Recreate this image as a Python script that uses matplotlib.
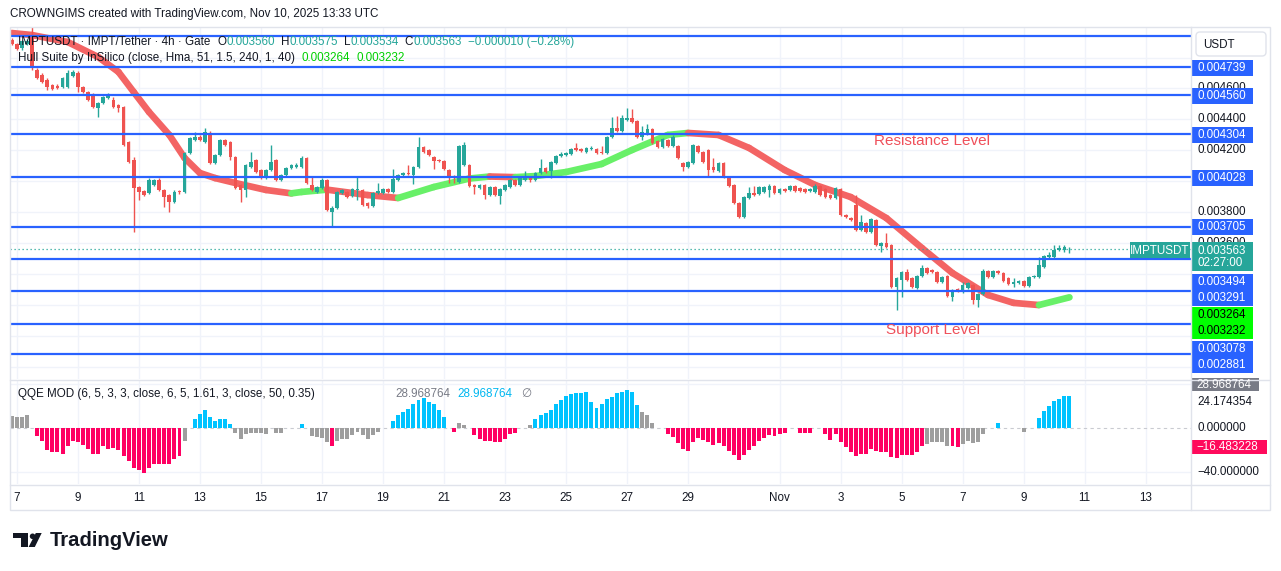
import numpy as np
import pandas as pd
import matplotlib
matplotlib.use("Agg")
import matplotlib.pyplot as plt
from matplotlib.collections import LineCollection
from matplotlib.patches import Rectangle, Polygon, Circle, FancyBboxPatch

plt.rcParams['font.family'] = ['Liberation Sans', 'DejaVu Sans']

# ---------------- DATA ----------------
# IMPT/USDT 4h candles, 2025-10-06 20:00 .. 2025-11-10 12:00 UTC (prices in millionths of USDT)
open_u = [4914, 4888, 4862, 4888, 4946, 4720, 4687, 4655, 4623, 4617,
          4610, 4610, 4680, 4700, 4610, 4577, 4558, 4474, 4506, 4538,
          4525, 4493, 4480, 4254, 4137, 3962, 3936, 3923, 3975, 4007,
          3943, 3910, 3865, 3934, 3930, 4182, 4266, 4286, 4254, 4312,
          4118, 4169, 4266, 4254, 4156, 3975, 3943, 4092, 4137, 4072,
          4020, 4072, 4137, 4007, 4040, 4085, 4092, 4092, 4150, 3975,
          3930, 3956, 4007, 3800, 3826, 3923, 3930, 3904, 3945, 3943,
          3859, 3839, 3923, 3923, 3949, 3930, 4007, 4040, 4053, 4040,
          4092, 4221, 4202, 4156, 4137, 4130, 4072, 4033, 3994, 4105,
          4105, 3975, 3956, 3975, 3910, 3962, 3904, 3943, 3962, 4007,
          3975, 4007, 4020, 4007, 4053, 4085, 4066, 4118, 4163, 4169,
          4176, 4215, 4208, 4189, 4208, 4208, 4189, 4182, 4286, 4344,
          4325, 4396, 4409, 4389, 4286, 4305, 4338, 4260, 4221, 4266,
          4228, 4228, 4118, 4092, 4118, 4228, 4189, 4202, 4092, 4066,
          4118, 4027, 3975, 3859, 3768, 3891, 3923, 3917, 3930, 3943,
          3969, 3923, 3949, 3943, 3969, 3956, 3949, 3936, 3930, 3969,
          3949, 3910, 3891, 3949, 3781, 3762, 3846, 3684, 3729, 3671,
          3749, 3580, 3600, 3587, 3315, 3360, 3412, 3373, 3308, 3386,
          3438, 3425, 3412, 3347, 3386, 3250, 3302, 3283, 3308, 3328,
          3231, 3270, 3418, 3380, 3418, 3405, 3373, 3334, 3341, 3354,
          3321, 3380, 3380, 3445, 3509, 3509, 3554, 3554, 3560]
high_u = [4927, 4894, 4914, 4920, 4998, 4733, 4700, 4668, 4630, 4630,
          4674, 4720, 4720, 4713, 4617, 4584, 4571, 4512, 4551, 4571,
          4545, 4499, 4486, 4260, 4156, 3969, 3943, 4020, 4014, 4020,
          3949, 3917, 3943, 3940, 4189, 4286, 4318, 4299, 4344, 4325,
          4176, 4273, 4273, 4260, 4163, 3981, 4111, 4189, 4143, 4079,
          4079, 4234, 4143, 4046, 4092, 4111, 4115, 4163, 4156, 4027,
          3969, 4020, 4014, 3839, 3936, 3949, 3936, 3956, 4027, 3949,
          3865, 3930, 3988, 3956, 3956, 4079, 4046, 4059, 4105, 4098,
          4286, 4228, 4208, 4163, 4143, 4137, 4079, 4040, 4234, 4254,
          4111, 3981, 3981, 3981, 3969, 3969, 3956, 3981, 4014, 4014,
          4027, 4066, 4027, 4059, 4143, 4092, 4130, 4169, 4189, 4189,
          4215, 4247, 4215, 4221, 4228, 4215, 4228, 4292, 4415, 4422,
          4428, 4474, 4467, 4396, 4357, 4370, 4344, 4266, 4279, 4273,
          4299, 4234, 4124, 4130, 4241, 4234, 4195, 4208, 4150, 4124,
          4124, 4033, 3981, 3865, 3904, 3962, 3969, 3969, 3969, 3981,
          3975, 3956, 3956, 3975, 3975, 3962, 3956, 3956, 3981, 3975,
          3956, 3917, 3962, 3956, 3787, 3768, 3910, 3781, 3736, 3762,
          3755, 3606, 3665, 3593, 3380, 3418, 3431, 3380, 3392, 3457,
          3444, 3431, 3418, 3386, 3392, 3302, 3308, 3347, 3347, 3334,
          3276, 3431, 3425, 3425, 3425, 3412, 3380, 3373, 3360, 3360,
          3386, 3392, 3509, 3522, 3541, 3587, 3587, 3587, 3575]
low_u = [4881, 4849, 4849, 4881, 4720, 4661, 4636, 4590, 4590, 4597,
         4604, 4604, 4674, 4577, 4571, 4519, 4474, 4415, 4499, 4532,
         4474, 4448, 4228, 4118, 3671, 3878, 3904, 3917, 3969, 3936,
         3833, 3800, 3859, 3920, 3923, 4176, 4260, 4260, 4247, 4111,
         4111, 4163, 4228, 4137, 3949, 3865, 3897, 4085, 4053, 4014,
         4014, 4066, 4001, 4001, 4033, 4079, 4085, 4085, 3981, 3936,
         3923, 3949, 3807, 3710, 3820, 3917, 3891, 3897, 3878, 3839,
         3826, 3833, 3917, 3917, 3923, 3923, 4001, 4033, 4040, 3981,
         4085, 4182, 4163, 4079, 4124, 4072, 3988, 3988, 3988, 4098,
         3962, 3917, 3949, 3885, 3904, 3904, 3852, 3936, 3956, 3969,
         3969, 4001, 3994, 4001, 4046, 4053, 4020, 4111, 4156, 4163,
         4169, 4195, 4189, 4182, 4202, 4176, 4176, 4176, 4279, 4318,
         4318, 4389, 4377, 4279, 4266, 4299, 4241, 4215, 4215, 4221,
         4221, 4143, 4066, 4085, 4111, 4182, 4118, 4033, 4059, 4059,
         4020, 3962, 3852, 3762, 3762, 3885, 3904, 3910, 3923, 3897,
         3917, 3917, 3930, 3936, 3930, 3930, 3923, 3930, 3923, 3904,
         3891, 3885, 3885, 3775, 3762, 3742, 3678, 3678, 3665, 3665,
         3580, 3541, 3567, 3308, 3166, 3250, 3354, 3308, 3302, 3380,
         3399, 3405, 3341, 3341, 3250, 3224, 3283, 3276, 3302, 3205,
         3185, 3263, 3373, 3373, 3399, 3347, 3328, 3315, 3334, 3315,
         3315, 3373, 3373, 3438, 3502, 3502, 3548, 3541, 3534]
close_u = [4888, 4855, 4907, 4907, 4733, 4668, 4642, 4610, 4597, 4604,
           4668, 4700, 4707, 4610, 4577, 4525, 4480, 4506, 4545, 4558,
           4480, 4474, 4234, 4124, 3956, 3930, 3910, 4007, 4007, 3943,
           3897, 3865, 3930, 3928, 4182, 4279, 4286, 4266, 4318, 4118,
           4169, 4266, 4234, 4156, 3956, 3943, 4105, 4124, 4059, 4020,
           4072, 4124, 4007, 4040, 4085, 4105, 4105, 4150, 3988, 3943,
           3962, 4007, 3813, 3826, 3930, 3943, 3897, 3949, 3952, 3846,
           3839, 3923, 3936, 3949, 3930, 4014, 4040, 4053, 4046, 4092,
           4221, 4189, 4169, 4130, 4130, 4079, 4027, 4027, 4228, 4234,
           3969, 3962, 3975, 3910, 3962, 3910, 3949, 3975, 4007, 3975,
           4020, 4020, 4007, 4053, 4085, 4059, 4124, 4163, 4176, 4182,
           4208, 4202, 4195, 4215, 4215, 4182, 4182, 4286, 4344, 4325,
           4409, 4409, 4383, 4286, 4318, 4338, 4247, 4221, 4273, 4228,
           4286, 4150, 4092, 4124, 4234, 4189, 4124, 4072, 4072, 4118,
           4027, 3969, 3859, 3768, 3897, 3923, 3910, 3962, 3962, 3969,
           3923, 3949, 3936, 3969, 3936, 3936, 3930, 3949, 3969, 3910,
           3897, 3891, 3956, 3781, 3768, 3749, 3684, 3736, 3671, 3755,
           3587, 3600, 3574, 3315, 3373, 3412, 3360, 3315, 3386, 3438,
           3405, 3412, 3347, 3380, 3257, 3295, 3289, 3328, 3341, 3231,
           3270, 3418, 3380, 3418, 3405, 3354, 3334, 3347, 3354, 3321,
           3380, 3386, 3457, 3515, 3522, 3554, 3567, 3574, 3563]

# Hull Suite band centre, read at selected bars (bar index, price in millionths)
hull_idx = [0, 4, 11, 17, 21, 24, 27, 31, 34, 37, 40, 44, 50, 55, 57, 62, 70, 76, 83,
            90, 94, 99, 103, 109, 116, 122, 129, 133, 139, 145, 152, 158, 165, 172,
            179, 185, 192, 197, 202, 208]
hull_u = [4959, 4946, 4901, 4804, 4707, 4577, 4448, 4299, 4150, 4053, 4020, 3988, 3943,
          3921, 3930, 3945, 3910, 3891, 3962, 4017, 4030, 4026, 4033, 4059, 4111, 4202,
          4299, 4312, 4299, 4215, 4072, 3975, 3897, 3761, 3567, 3405, 3263, 3212, 3198,
          3248]
hull_last = [0.003264, 0.003232]

# QQE MOD histogram (one value per bar, None = no bar) and its state
qqe_vals = [11.0, 10.4, 9.8, 12.1, None, -7.4, -11.9, -19.9, -22.2, -22.2,
            -23.7, -16.3, -11.9, -13.3, -15.7, -19.3, -23.7, -23.7, -16.3, -19.3,
            -18.7, -19.9, -26.1, -30.5, -36.4, -38.5, -41.5, -36.4, -33.5, -32.6,
            -32.6, -32.6, -28.7, -25.8, -11.9, None, 8.0, 12.7, 16.9, 9.8,
            6.8, 8.0, 8.0, 3.9, -5.0, -9.8, -5.9, -4.4, -5.0, -4.4,
            -5.9, None, -4.4, -4.4, None, None, None, 3.9, None, -7.4,
            -8.0, -8.9, -13.3, -16.3, -11.9, -9.8, -9.8, -6.8, -3.9, -6.8,
            -10.4, -6.8, -3.9, None, None, 6.8, 11.9, 14.8, 17.8, 21.6,
            25.8, 27.6, 23.7, 21.6, 16.9, 9.8, None, -3.9, 4.4, 3.0,
            None, -6.8, -9.8, -11.9, -11.9, -13.3, -13.3, -10.4, -5.9, -5.0,
            None, None, 3.0, 8.0, 11.9, 13.3, 16.9, 21.6, 25.2, 29.6,
            31.1, 31.7, 31.7, 32.6, 23.7, 18.7, 22.2, 26.7, 28.1, 31.7,
            32.6, 34.7, 32.6, 20.7, 14.2, 11.9, 5.0, None, None, -5.9,
            -8.0, -13.9, -19.3, -20.7, -12.7, -8.9, -11.0, -12.7, -15.7, -13.9,
            -16.3, -20.7, -25.2, -29.6, -24.6, -19.9, -16.3, -11.9, -8.9, -6.8,
            -7.4, -5.9, -5.0, None, None, -4.4, -5.0, -5.0, None, None,
            -5.9, -11.0, -5.9, -12.7, -17.8, -21.6, -25.8, -23.7, -23.7, -19.3,
            -20.7, -21.6, -22.2, -26.7, -27.6, -25.2, -25.2, -25.2, -21.6, -16.3,
            -14.8, -12.7, -13.3, -12.7, -16.3, -16.3, -17.2, -14.8, -11.9, -14.2,
            -13.3, -5.3, None, None, 4.4, None, None, None, None, -3.6,
            None, None, 8.9, 15.4, 19.9, 24.3, 26.7, 29.3, 28.97]
qqe_state = ("gggg.rrrrr" "rrrrrrrrrr" "rrrrrrrrrr" "rrrrg.bbbb" "bbbbgggggg"
             "g.gg...b.g" "gggrgggggg" "ggg..bbbbb" "bbbbbb.rgg" ".rrrrrrrrr"
             "..gbbbbbbb" "bbbbbbbbbb" "bbbbggg..r" "rrrrrrrrrr" "rrrrrrrrrr"
             "rrr..rrr.." "rrrrrrrrrr" "rrrrrrrrrr" "gggggrrggg" "gg..b....g"
             "..bbbbbbb")

levels = [0.004940, 0.004739, 0.004560, 0.004304, 0.004028, 0.003705,
          0.003494, 0.003291, 0.003078, 0.002881]
price_ticks = [0.0046, 0.0044, 0.0042, 0.0038, 0.0036]
tick_days = ['2025-10-07', '2025-10-09', '2025-10-11', '2025-10-13', '2025-10-15',
             '2025-10-17', '2025-10-19', '2025-10-21', '2025-10-23', '2025-10-25',
             '2025-10-27', '2025-10-29', '2025-11-01', '2025-11-03', '2025-11-05',
             '2025-11-07', '2025-11-09', '2025-11-11', '2025-11-13']
tick_labels = ['7', '9', '11', '13', '15', '17', '19', '21', '23', '25', '27', '29',
               'Nov', '3', '5', '7', '9', '11', '13']
first_bar = '2025-10-06 20:00'
qqe_ticks = [(24.174354, '24.174354'), (0.0, '0.000000'), (-40.0, '−40.000000')]

# ---------------- STYLE / LAYOUT ----------------
W, H, DPI = 1281, 571, 100
UP, DN = '#26a69a', '#ef5350'
BLUE = '#2962ff'
TXT = '#131722'
GRIDC = '#f0f3fa'
BORD = '#e0e3eb'
FS = 8.4

u = 1e-6
o = np.array(open_u) * u
hh = np.array(high_u) * u
ll = np.array(low_u) * u
c = np.array(close_u) * u
n = len(c)
idx = np.arange(n)
t0 = pd.Timestamp(first_bar)
tick_pos = np.array((pd.to_datetime(tick_days) - t0) / pd.Timedelta(hours=4), dtype=float)

fig = plt.figure(figsize=(W / DPI, H / DPI), dpi=DPI)
fig.patch.set_facecolor('white')


def rect(l, t, r, b):
    return [l / W, 1 - b / H, (r - l) / W, (b - t) / H]


ax = fig.add_axes(rect(10, 28, 1191, 379))
ax2 = fig.add_axes(rect(10, 380, 1191, 484))
ov = fig.add_axes([0, 0, 1, 1], zorder=10)
ov.set_xlim(0, W)
ov.set_ylim(H, 0)
ov.axis('off')

for a in (ax, ax2):
    a.set_xlim(-0.33, 231.9)
    for s in a.spines.values():
        s.set_visible(False)
    a.set_xticks(tick_pos)
    a.tick_params(length=0, labelleft=False, labelbottom=False)
    a.grid(True, color=GRIDC, lw=1)
    a.set_axisbelow(True)

# main pane
ax.set_ylim(2719.2e-6, 4991.5e-6)
ax.set_yticks(np.arange(28, 49, 2) * 1e-4)

# hull band
pts = np.column_stack([hull_idx, np.array(hull_u) * u])
segs = np.stack([pts[:-1], pts[1:]], axis=1)
hcols = ['#68f068' if b > a else '#f36464' for a, b in zip(hull_u[:-1], hull_u[1:])]
ax.add_collection(LineCollection(segs, colors=hcols, linewidths=4.8,
                                 capstyle='round', joinstyle='round', zorder=2))

# candles
col = np.where(c >= o, UP, DN)
ax.vlines(idx, ll, hh, colors=col, linewidth=1.0, zorder=3)
body = np.maximum(np.abs(c - o), 0.7e-6)
ax.bar(idx, body, bottom=np.minimum(o, c), width=0.72, color=col, linewidth=0, zorder=4)

for lv in levels:
    ax.axhline(lv, color=BLUE, lw=1.6, zorder=5)
ax.axhline(c[-1], color=UP, lw=0.9, ls=(0, (1, 2.2)), zorder=5)

ax.text(181, 0.004260, 'Resistance Level', color='#ef4f5a', fontsize=11,
        ha='center', va='center', zorder=6)
ax.text(181.2, 0.003036, 'Support Level', color='#ef4f5a', fontsize=11,
        ha='center', va='center', zorder=6)

# QQE pane
ax2.set_ylim(-51.4, 44.0)
ax2.set_yticks([-40, 40])
qv = np.array([np.nan if v is None else v for v in qqe_vals], dtype=float)
cmap = {'b': '#00c3ff', 'r': '#ff0062', 'g': '#9e9e9e', '.': 'white'}
qc = [cmap[s] for s in qqe_state]
ax2.axhline(0, color='#c9cbd1', lw=0.8, ls=(0, (3, 3)), zorder=1)
ax2.bar(idx, np.nan_to_num(qv), width=0.78, color=qc, linewidth=0, zorder=2)
ax2.set_xticks(tick_pos)
ax2.set_xticklabels(tick_labels, fontsize=FS, color=TXT)
ax2.tick_params(labelbottom=True, pad=5.5)

# price axis tick labels (plain)
trans = ax.get_yaxis_transform()
for v in price_ticks:
    ax.text(1.0052, v, f'{v:.6f}', transform=trans, fontsize=FS, color=TXT,
            va='center', ha='left', clip_on=False)
trans2 = ax2.get_yaxis_transform()
for v, s in qqe_ticks:
    ax2.text(1.0052, v, s, transform=trans2, fontsize=FS, color=TXT,
             va='center', ha='left', clip_on=False)


# overlay decorations (pixel coordinates)
def box(x0, y0, x1, y1, fc, ec='none', lw=0):
    ov.add_patch(Rectangle((x0, y0), x1 - x0, y1 - y0, fc=fc, ec=ec, lw=lw))


def otext(x, y, s, color=TXT, size=FS, ha='left', **kw):
    return ov.text(x, y, s, color=color, fontsize=size, ha=ha, va='center', **kw)


# frame
ov.add_patch(Rectangle((10, 27), 1260, 483, fill=False, ec=BORD, lw=1))
ov.plot([10, 1270], [379.5, 379.5], color=BORD, lw=1)
ov.plot([10, 1270], [484.5, 484.5], color=BORD, lw=1)
ov.plot([1191, 1191], [27, 510], color=BORD, lw=1)

# USDT box
ov.add_patch(FancyBboxPatch((1196, 32), 70, 24, boxstyle='round,pad=0,rounding_size=4',
                            fc='white', ec=BORD, lw=1))
otext(1203, 44.5, 'USDT')

level_pos = [67.5, 95.5, 134.5, 177.5, 226.5, 281.5, 297.5, 348.5, 364.5]
for yp, lv in zip(level_pos, levels[1:]):
    box(1192, yp - 8, 1253, yp + 8, BLUE)
    otext(1197, yp + 0.5, f'{lv:.6f}', color='white')

# current price
box(1192, 242, 1253, 271, '#26a69a')
otext(1197, 250.5, f'{c[-1]:.6f}', color='white')
otext(1197, 263.5, '02:27:00', color='white')
box(1130, 242, 1190, 258, '#26a69a')
otext(1160, 250.5, 'IMPTUSDT', color='white', ha='center')

# hull values
box(1192, 307, 1253, 339, '#00ff00')
otext(1197, 315.5, f'{hull_last[0]:.6f}', color='black')
otext(1197, 331.5, f'{hull_last[1]:.6f}', color='black')

# qqe value boxes
box(1192, 378, 1259, 391, '#787b86')
otext(1196, 384.5, '28.968764', color='white')
box(1192, 440, 1267, 454, '#ff0a5c')
otext(1196, 447.5, '−16.483228', color='white')

# legends
rend = fig.canvas.get_renderer()


def seq(x, y, parts, size=FS):
    for s, colr, gap in parts:
        t = otext(x, y, s, color=colr, size=size)
        x += t.get_window_extent(rend).width + gap


otext(10, 14, 'CROWNGIMS created with TradingView.com, Nov 10, 2025 13:33 UTC', size=8.4)
TEAL = '#26a69a'
seq(18, 42, [('IMPTUSDT · IMPT/Tether · 4h · Gate', TXT, 7),
             ('O', TXT, 0), (f'{o[-1]:.6f}', TEAL, 6),
             ('H', TXT, 0), (f'{hh[-1]:.6f}', TEAL, 6),
             ('L', TXT, 0), (f'{ll[-1]:.6f}', TEAL, 6),
             ('C', TXT, 0), (f'{c[-1]:.6f}', TEAL, 6),
             ('−0.000010 (−0.28%)', TEAL, 0)])
seq(18, 58, [('Hull Suite by InSilico (close, Hma, 51, 1.5, 240, 1, 40)', TXT, 7),
             (f'{hull_last[0]:.6f}', '#00d000', 6), (f'{hull_last[1]:.6f}', '#00d000', 0)])
seq(18, 394, [('QQE MOD (6, 5, 3, 3, close, 6, 5, 1.61, 3, close, 50, 0.35)', TXT, 81),
              ('28.968764', '#787b86', 7), ('28.968764', '#00b7f0', 8), ('∅', '#787b86', 0)])

# TradingView logo
ov.add_patch(Polygon([(12.7, 533), (28.3, 533), (28.3, 547), (20.7, 547), (20.7, 538.3), (12.7, 538.3)],
                     closed=True, fc=TXT, ec='none'))
ov.add_patch(Circle((32.6, 536.3), 2.8, fc=TXT, ec='none'))
ov.add_patch(Polygon([(28.6, 547), (34.8, 547), (41.7, 533), (35.8, 533)], closed=True, fc=TXT, ec='none'))
otext(50, 540.5, 'TradingView', size=14.6, fontweight='bold')

fig.savefig('out.png', dpi=DPI, facecolor='white')
